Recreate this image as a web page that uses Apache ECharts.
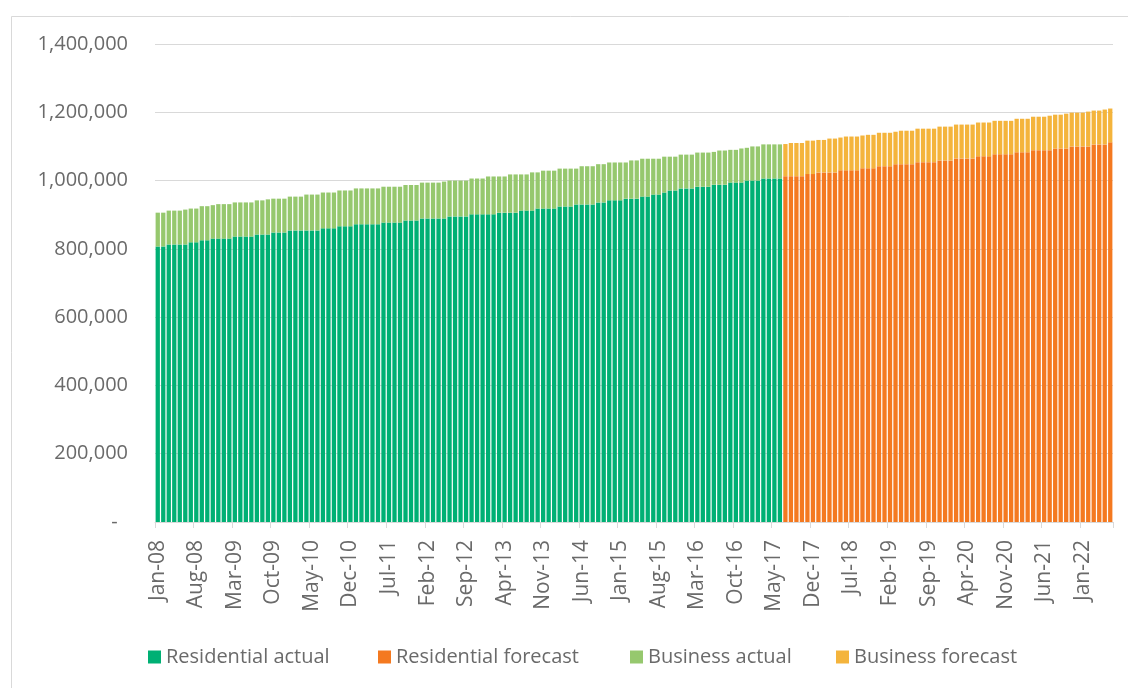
<!DOCTYPE html>
<html>
<head>
<meta charset="utf-8">
<script src="https://cdn.jsdelivr.net/npm/echarts@6/dist/echarts.min.js"></script>
<style>
html,body{margin:0;padding:0;background:#fff;}
#chart{width:1128px;height:688px;}
</style>
</head>
<body>
<div id="chart"></div>
<script>
// Month labels Jan-08 .. Jun-22 (174 months)
var monthNames = ['Jan','Feb','Mar','Apr','May','Jun','Jul','Aug','Sep','Oct','Nov','Dec'];
var firstYear = 2008, monthCount = 174;

// Residential actual, Jan-08 .. Jun-17 (114 months)
var residentialActual = [
  807000,807000,813000,813000,813000,813000,819000,819000,825000,825000,
  830000,830000,830000,830000,836000,836000,836000,836000,842000,842000,
  842000,848000,848000,848000,854000,854000,854000,854000,854000,854000,
  860000,860000,860000,866000,866000,866000,872000,872000,872000,872000,
  872000,877000,877000,877000,877000,883000,883000,883000,889000,889000,
  889000,889000,889000,895000,895000,895000,895000,901000,901000,901000,
  901000,901000,906000,906000,906000,906000,912000,912000,912000,918000,
  918000,918000,918000,924000,924000,924000,930000,930000,930000,930000,
  936000,936000,942000,942000,942000,947000,947000,947000,953000,953000,
  959000,959000,965000,971000,971000,977000,977000,977000,982000,982000,
  982000,988000,988000,988000,994000,994000,994000,1000000,1000000,1000000,
  1006000,1006000,1006000,1006000
];
// Business actual, Jan-08 .. Jun-17
var businessActual = [
  99000,99000,99000,99000,99000,102000,99000,99000,100000,100000,
  98000,101000,101000,101000,100000,100000,100000,100000,100000,100000,
  103000,99000,99000,99000,99000,99000,99000,105000,105000,105000,
  105000,105000,105000,105000,105000,105000,105000,105000,105000,105000,
  105000,105000,105000,105000,105000,104000,104000,104000,105000,105000,
  105000,105000,108000,105000,105000,105000,105000,105000,105000,105000,
  111000,111000,106000,106000,112000,112000,106000,106000,112000,106000,
  111000,111000,111000,111000,111000,111000,105000,112000,112000,112000,
  112000,112000,111000,111000,111000,106000,112000,112000,111000,111000,
  105000,105000,105000,99000,99000,99000,99000,99000,100000,100000,
  100000,96000,100000,100000,96000,96000,100000,96000,100000,100000,
  100000,100000,100000,100000
];
// Residential forecast, Jul-17 .. Jun-22 (60 months)
var residentialForecast = [
  1013000,1013000,1013000,1013000,1019000,1019000,1024000,1024000,1024000,1024000,
  1030000,1030000,1030000,1030000,1036000,1036000,1036000,1042000,1042000,1042000,
  1048000,1048000,1048000,1048000,1054000,1054000,1054000,1054000,1059000,1059000,
  1059000,1065000,1065000,1065000,1065000,1071000,1071000,1071000,1077000,1077000,
  1077000,1077000,1083000,1083000,1083000,1089000,1089000,1089000,1089000,1094000,
  1094000,1094000,1100000,1100000,1100000,1100000,1106000,1106000,1106000,1112000
];
// Business forecast, Jul-17 .. Jun-22
var businessForecast = [
  94000,97000,97000,97000,98000,98000,95000,95000,99000,99000,
  96000,99000,99000,99000,96000,98000,98000,98000,98000,98000,
  95000,98000,98000,98000,98000,98000,98000,98000,99000,99000,
  99000,99000,99000,99000,99000,99000,99000,99000,98000,98000,
  98000,98000,98000,98000,98000,98000,98000,98000,101000,99000,
  99000,102000,99000,99000,99000,102000,99000,99000,102000,99000
];
var yTicks = [0,200000,400000,600000,800000,1000000,1200000,1400000];

var categories = [];
for (var i = 0; i < monthCount; i++) {
  var y = firstYear + Math.floor(i / 12);
  categories.push(monthNames[i % 12] + '-' + String(y % 100).padStart(2, '0'));
}
var nA = residentialActual.length;
function pad(arr, before, total) {
  var out = [];
  for (var k = 0; k < total; k++) {
    var j = k - before;
    out.push(j >= 0 && j < arr.length ? arr[j] : null);
  }
  return out;
}

var colors = {
  resA: '#00b074', resF: '#f47920', busA: '#96c86e', busF: '#f4b43c'
};
var font = 'Open Sans';
var txt = '#6a6a6a';

var chart = echarts.init(document.getElementById('chart'), null, {renderer: 'canvas'});
function legendAt(name, left) {
  return {
    data: [name], left: left, top: 642, itemWidth: 13, itemHeight: 13,
    icon: 'rect', selectedMode: false, itemGap: 0,
    textStyle: {color: txt, fontFamily: font, fontSize: 20}
  };
}
var option = {
  animation: false,
  backgroundColor: '#fff',
  graphic: [{
    type: 'rect', left: 9, top: 14, silent: true,
    shape: {width: 1130, height: 700},
    style: {fill: 'none', stroke: '#d9d9d9', lineWidth: 1}
  }],
  legend: [
    legendAt('Residential actual', 143),
    legendAt('Residential forecast', 373),
    legendAt('Business actual', 625),
    legendAt('Business forecast', 831)
  ],
  grid: {left: 155, right: 15, top: 44, bottom: 166, containLabel: false},
  xAxis: {
    type: 'category',
    data: categories,
    axisLine: {lineStyle: {color: '#d9d9d9'}},
    axisTick: {show: true, interval: 6, length: 6, lineStyle: {color: '#d9d9d9'}},
    axisLabel: {
      interval: 6, rotate: 90, margin: 18,
      color: txt, fontFamily: font, fontSize: 21
    }
  },
  yAxis: {
    type: 'value', min: 0, max: 1400000, interval: 200000,
    axisLine: {show: false}, axisTick: {show: false},
    splitLine: {lineStyle: {color: '#d9d9d9'}},
    axisLabel: {
      margin: 27, color: txt, fontFamily: font, fontSize: 20,
      formatter: function (v) {
        if (yTicks.indexOf(v) < 0) return '';
        return v === 0 ? '-  ' : v.toLocaleString('en-US');
      }
    }
  },
  series: [
    {name: 'Residential actual', type: 'bar', stack: 'all', barCategoryGap: '22%',
     itemStyle: {color: colors.resA}, data: pad(residentialActual, 0, monthCount)},
    {name: 'Residential forecast', type: 'bar', stack: 'all', barCategoryGap: '22%',
     itemStyle: {color: colors.resF}, data: pad(residentialForecast, nA, monthCount)},
    {name: 'Business actual', type: 'bar', stack: 'all', barCategoryGap: '22%',
     itemStyle: {color: colors.busA}, data: pad(businessActual, 0, monthCount)},
    {name: 'Business forecast', type: 'bar', stack: 'all', barCategoryGap: '22%',
     itemStyle: {color: colors.busF}, data: pad(businessForecast, nA, monthCount)}
  ]
};
chart.setOption(option);
</script>
</body>
</html>
